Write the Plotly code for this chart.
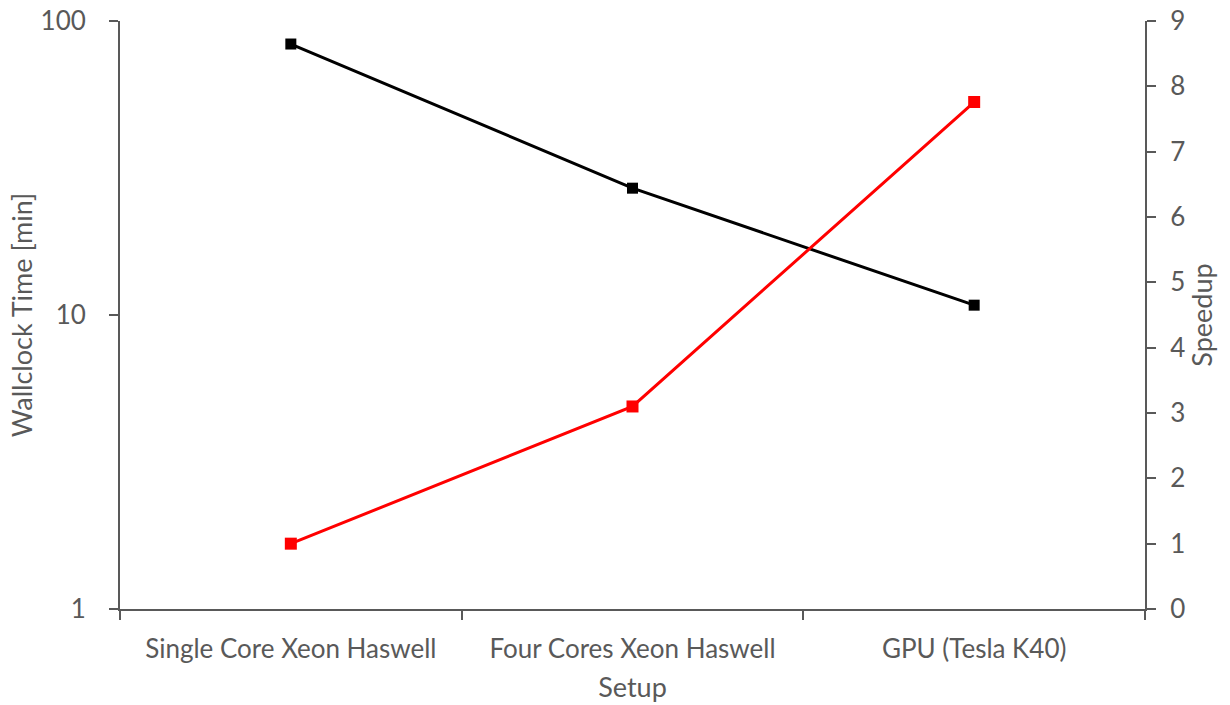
import plotly.graph_objects as go

categories = ["Single Core Xeon Haswell", "Four Cores Xeon Haswell", "GPU (Tesla K40)"]
wallclock_min = [83.5, 27.0, 10.8]
speedup = [1.0, 3.1, 7.76]
left_ticks = [1, 10, 100]
right_ticks = list(range(0, 10))
right_range = [0, 9]

FONT = "Lato"
GRAY = "#595959"

fig = go.Figure()
fig.add_trace(go.Scatter(
    x=categories, y=wallclock_min, mode="lines+markers",
    line=dict(color="black", width=3),
    marker=dict(symbol="square", size=11, color="black"),
    name="Wallclock Time", yaxis="y"))
fig.add_trace(go.Scatter(
    x=categories, y=speedup, mode="lines+markers",
    line=dict(color="#ff0000", width=3),
    marker=dict(symbol="square", size=12, color="#ff0000"),
    name="Speedup", yaxis="y2"))
# empty trace so the label-only right axis is drawn
fig.add_trace(go.Scatter(x=[], y=[], mode="lines", yaxis="y3",
                         hoverinfo="skip", showlegend=False))

axis_common = dict(showgrid=False, zeroline=False, showline=True,
                   linecolor="#595959", linewidth=2, ticks="outside",
                   ticklen=9, tickwidth=1.5, tickcolor="#595959",
                   tickfont=dict(family=FONT, size=26, color=GRAY))
title_font = dict(family=FONT, size=27, color=GRAY)

fig.update_layout(
    width=1230, height=705,
    margin=dict(l=120, r=85, t=21, b=96, autoexpand=False),
    paper_bgcolor="white", plot_bgcolor="white",
    showlegend=False,
    font=dict(family=FONT, color=GRAY),
    xaxis=dict(**axis_common, type="category", tickson="boundaries",
               range=[-0.5, 2.5], ticklabelstandoff=16, automargin=False,
               title=dict(text="Setup", font=title_font, standoff=15)),
    yaxis=dict(**axis_common, type="log", range=[0, 2], tickvals=left_ticks,
               ticktext=[str(v) for v in left_ticks], ticklabelstandoff=18, automargin=False,
               title=dict(text="Wallclock Time [min]", font=title_font, standoff=0)),
    # right axis: line + tick marks
    yaxis2=dict(**axis_common, overlaying="y", side="right", range=right_range,
                tickvals=right_ticks, showticklabels=False, automargin=False),
    # right axis labels + title, shifted outward a little
    yaxis3=dict(overlaying="y", side="right", anchor="free", position=1, shift=10,
                range=right_range, tickvals=right_ticks,
                showgrid=False, zeroline=False, showline=False,
                ticks="outside", ticklen=9, tickcolor="rgba(0,0,0,0)",
                tickfont=dict(family=FONT, size=26, color=GRAY), automargin=False,
                title=dict(text="Speedup", font=title_font, standoff=4)),
)

fig.write_html("out.html")
